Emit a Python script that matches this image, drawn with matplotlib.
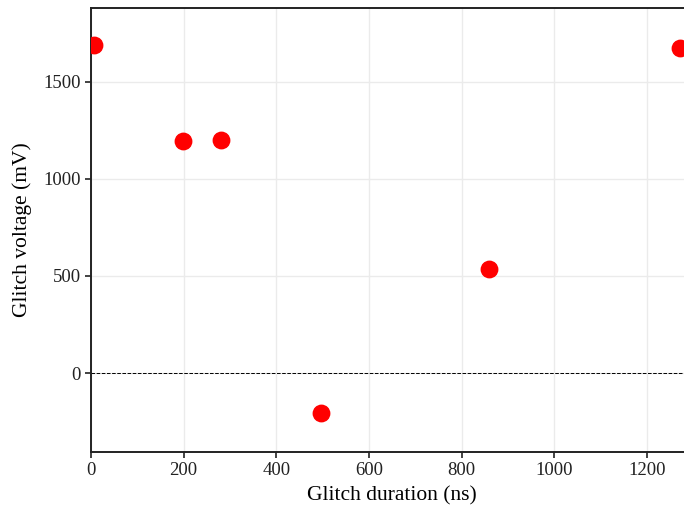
import matplotlib
matplotlib.use("Agg")
from matplotlib import pyplot as plt

plt.rcParams['font.family'] = ['Liberation Serif', 'DejaVu Serif']

# glitch duration (ns) and glitch voltage (mV)
duration = [6, 198, 281, 496, 859, 1272]
voltage = [1688, 1194, 1199, -207, 536, 1673]

fig = plt.figure(figsize=(6.84, 5.07), dpi=100)
# axes run a bit past the right edge of the figure, like the reference
ax = fig.add_axes([91/684, 55/507, 602/684, 444/507])

ax.scatter(duration, voltage, s=140, color='red', zorder=3)
ax.axhline(0, color='black', linestyle='--', linewidth=0.7)

ax.set_xlim(0, 1299)
ax.set_ylim(-407, 1881)
ax.set_xticks([0, 200, 400, 600, 800, 1000, 1200])
ax.set_yticks([0, 500, 1000, 1500])
ax.grid(True, color='#ebebeb', linewidth=1)
ax.set_axisbelow(True)

ax.tick_params(labelsize=13.5, colors='#222222', length=4, width=1.2)
ax.set_xlabel('Glitch duration (ns)', fontsize=15.5, labelpad=5)
ax.set_ylabel('Glitch voltage (mV)', fontsize=15.5, labelpad=8)
for sp in ax.spines.values():
    sp.set_linewidth(1.4)
    sp.set_color('#222222')

fig.savefig('out.png', dpi=100)
